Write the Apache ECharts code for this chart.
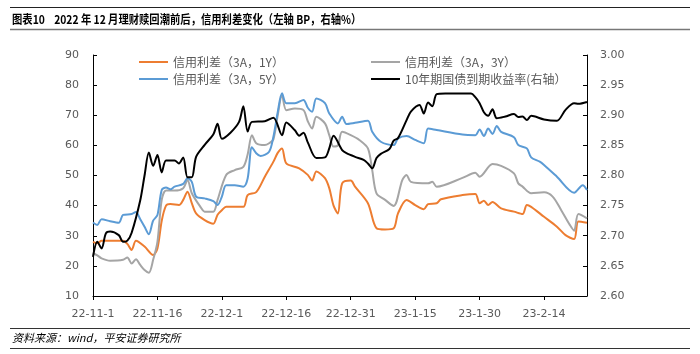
<!DOCTYPE html>
<html>
<head>
<meta charset="utf-8">
<script src="https://cdn.jsdelivr.net/npm/echarts@6/dist/echarts.min.js"></script>
<style>
    html, body { margin: 0; padding: 0; background: #fff; }
    #chart { width: 700px; height: 354px; }
</style>
</head>
<body>
<div id="chart"></div>
<script>
    // dates are 'M-D'; Nov/Dec are 2022, the rest 2023
    var spread1Y = [
        ['11-1', 28], ['11-2', 27.5], ['11-3', 28.3], ['11-8', 28.3], ['11-9', 27.3], ['11-10', 25.3],
        ['11-11', 28.3], ['11-13', 26.4], ['11-15', 23.6], ['11-16', 25.8], ['11-17', 35], ['11-18', 40],
        ['11-19', 40.5], ['11-21', 40.2], ['11-22', 41.9], ['11-23', 44.6], ['11-24', 40.8], ['11-25', 37.4],
        ['11-27', 35.2], ['11-29', 34], ['11-30', 37], ['12-1', 38.5], ['12-2', 39.6], ['12-6', 39.6],
        ['12-7', 43.5], ['12-9', 44.5], ['12-11', 49.6], ['12-13', 54.6], ['12-14', 57.5], ['12-15', 59],
        ['12-16', 54], ['12-19', 52.4], ['12-21', 50.2], ['12-22', 48.3], ['12-23', 51.3], ['12-25', 49.1],
        ['12-26', 45.8], ['12-27', 40], ['12-28', 37.4], ['12-29', 47.4], ['12-31', 48.3], ['1-1', 46.3],
        ['1-4', 40.8], ['1-6', 32.5], ['1-8', 32.1], ['1-10', 32.5], ['1-11', 37.4], ['1-13', 41.9],
        ['1-15', 40.2], ['1-17', 38.8], ['1-18', 40.5], ['1-20', 40.8], ['1-21', 42.1], ['1-26', 43.5],
        ['1-29', 43.9], ['1-30', 40.8], ['1-31', 41.6], ['2-1', 40.2], ['2-2', 41.2], ['2-4', 39.1],
        ['2-7', 38], ['2-9', 37.2], ['2-10', 40.2], ['2-11', 39.6], ['2-14', 36.3], ['2-17', 33],
        ['2-19', 30.2], ['2-21', 28.9], ['2-22', 34.7], ['2-24', 34.3]
    ];
    var spread3Y = [
        ['11-1', 24.2], ['11-2', 23.5], ['11-3', 22.5], ['11-5', 21.7], ['11-8', 22], ['11-9', 22.8],
        ['11-10', 20.8], ['11-11', 22.2], ['11-12', 20.3], ['11-13', 18.6], ['11-14', 17.7], ['11-15', 22],
        ['11-16', 28], ['11-17', 41.9], ['11-18', 45], ['11-20', 45], ['11-22', 45.8], ['11-23', 48.5],
        ['11-24', 44.1], ['11-26', 39.6], ['11-27', 38], ['11-29', 38], ['11-30', 41.9], ['12-2', 50.2],
        ['12-4', 51.8], ['12-6', 52.9], ['12-7', 57], ['12-8', 63.4], ['12-9', 60.7], ['12-11', 60.1],
        ['12-12', 60.7], ['12-13', 62], ['12-14', 70], ['12-15', 76.7], ['12-16', 71.7], ['12-18', 72.2],
        ['12-20', 71.7], ['12-21', 68], ['12-22', 65.6], ['12-23', 69.5], ['12-25', 67.3], ['12-26', 63.4],
        ['12-27', 59.6], ['12-28', 60], ['12-29', 64.5], ['12-31', 63.4], ['1-2', 61.8], ['1-4', 59],
        ['1-5', 51.8], ['1-6', 44.1], ['1-8', 41.9], ['1-10', 39.9], ['1-12', 48.5], ['1-13', 50.2],
        ['1-14', 47.9], ['1-18', 47.4], ['1-19', 47.9], ['1-20', 46.3], ['1-26', 49.2], ['1-29', 50.9],
        ['1-30', 49.6], ['2-2', 53.8], ['2-4', 53.2], ['2-7', 50.7], ['2-8', 47.4], ['2-9', 46.3],
        ['2-11', 44.1], ['2-14', 44.4], ['2-16', 43], ['2-18', 38.5], ['2-20', 33.6], ['2-21', 31.7],
        ['2-22', 37.2], ['2-24', 35.8]
    ];
    var spread5Y = [
        ['11-1', 34.4], ['11-2', 33.6], ['11-3', 35.5], ['11-5', 34.8], ['11-7', 34.3], ['11-8', 36.9],
        ['11-10', 37.2], ['11-11', 37.9], ['11-12', 35.5], ['11-13', 33], ['11-14', 30.5], ['11-15', 35],
        ['11-16', 36.9], ['11-17', 45.2], ['11-18', 46], ['11-19', 45.4], ['11-20', 46.3], ['11-22', 47.2],
        ['11-23', 49.1], ['11-24', 47.9], ['11-25', 43], ['11-27', 42.4], ['11-29', 41.5], ['11-30', 40.2],
        ['12-1', 43], ['12-2', 46.8], ['12-4', 46.8], ['12-6', 46.3], ['12-7', 49], ['12-8', 59.4],
        ['12-9', 57.4], ['12-10', 56.5], ['12-12', 57.9], ['12-13', 62.9], ['12-14', 71], ['12-15', 77.3],
        ['12-16', 74], ['12-18', 74], ['12-20', 75.1], ['12-21', 72.5], ['12-22', 71.2], ['12-23', 75.6],
        ['12-25', 74], ['12-26', 70.6], ['12-28', 67.3], ['12-29', 69.5], ['12-30', 67.1], ['1-1', 67.5],
        ['1-4', 68.2], ['1-5', 64.5], ['1-7', 61.2], ['1-10', 60.1], ['1-11', 62.3], ['1-13', 63.1],
        ['1-15', 61.8], ['1-17', 60.7], ['1-18', 65.6], ['1-20', 65.1], ['1-26', 63.6], ['1-29', 63.4],
        ['1-30', 65.3], ['1-31', 63.1], ['2-1', 65.6], ['2-2', 63.8], ['2-3', 66.4], ['2-4', 64.5],
        ['2-7', 62.7], ['2-8', 60.1], ['2-10', 59], ['2-11', 56], ['2-13', 54.6], ['2-14', 53.5],
        ['2-17', 49.6], ['2-21', 44.3], ['2-23', 46.8], ['2-24', 45.2]
    ];
    var yield10Y = [
        ['11-1', 2.665], ['11-2', 2.690], ['11-3', 2.679], ['11-4', 2.704], ['11-5', 2.707], ['11-7', 2.701],
        ['11-8', 2.690], ['11-9', 2.692], ['11-10', 2.705], ['11-12', 2.759], ['11-13', 2.800], ['11-14', 2.838],
        ['11-15', 2.816], ['11-16', 2.834], ['11-17', 2.805], ['11-18', 2.825], ['11-20', 2.825], ['11-21', 2.820],
        ['11-22', 2.830], ['11-23', 2.797], ['11-24', 2.797], ['11-25', 2.831], ['11-27', 2.851], ['11-29', 2.868],
        ['11-30', 2.886], ['12-1', 2.861], ['12-3', 2.871], ['12-5', 2.889], ['12-6', 2.915], ['12-7', 2.873],
        ['12-8', 2.889], ['12-11', 2.890], ['12-13', 2.896], ['12-15', 2.867], ['12-16', 2.888], ['12-18', 2.875],
        ['12-19', 2.866], ['12-20', 2.871], ['12-21', 2.855], ['12-23', 2.829], ['12-25', 2.830], ['12-26', 2.845],
        ['12-27', 2.866], ['12-29', 2.842], ['12-30', 2.837], ['1-1', 2.831], ['1-3', 2.826], ['1-4', 2.820],
        ['1-5', 2.812], ['1-6', 2.829], ['1-7', 2.836], ['1-9', 2.844], ['1-10', 2.858], ['1-11', 2.862],
        ['1-13', 2.892], ['1-14', 2.906], ['1-16', 2.917], ['1-17', 2.903], ['1-18', 2.921], ['1-19', 2.915],
        ['1-20', 2.935], ['1-22', 2.936], ['1-28', 2.936], ['1-29', 2.930], ['1-30', 2.920], ['1-31', 2.905],
        ['2-1', 2.899], ['2-2', 2.910], ['2-3', 2.895], ['2-5', 2.898], ['2-7', 2.902], ['2-8', 2.897],
        ['2-9', 2.898], ['2-10', 2.892], ['2-11', 2.899], ['2-14', 2.893], ['2-17', 2.891], ['2-19', 2.909],
        ['2-21', 2.920], ['2-22', 2.919], ['2-24', 2.922]
    ];
    var seriesNames = ['信用利差（3A，1Y）', '信用利差（3A，3Y）', '信用利差（3A，5Y）', '10年期国债到期收益率(右轴）'];
    var seriesColors = ['#ED7D31', '#A5A5A5', '#5B9BD5', '#000000'];

    var baseTime = Date.UTC(2022, 10, 1),
        dayMs = 86400000;

    function dayIndex(md) {
        var p = md.split('-'),
            m = +p[0],
            year = m >= 11 ? 2022 : 2023;
        return (Date.UTC(year, m - 1, +p[1]) - baseTime) / dayMs;
    }

    function toPoints(arr) {
        var out = [], i;
        for (i = 0; i < arr.length; i++) {
            out.push([dayIndex(arr[i][0]), arr[i][1]]);
        }
        return out;
    }

    function dayLabel(v) {
        var d = new Date(baseTime + v * dayMs);
        return (d.getUTCFullYear() % 100) + '-' + (d.getUTCMonth() + 1) + '-' + d.getUTCDate();
    }

    var myChart = echarts.init(document.getElementById('chart'));
    var allData = [spread1Y, spread3Y, spread5Y, yield10Y];
    var tempSeries = [], i;

    for (i = 0; i < allData.length; i++) {
        tempSeries.push({
            name: seriesNames[i],
            type: 'line',
            yAxisIndex: i === 3 ? 1 : 0,
            data: toPoints(allData[i]),
            symbol: 'none',
            smooth: 0.3,
            color: seriesColors[i],
            lineStyle: { width: 2, color: seriesColors[i] },
            z: i === 3 ? 5 : 3
        });
    }

    var legendText = { color: '#595959', fontSize: 12, fontFamily: 'Noto Sans CJK SC' };
    // the legend shows only the line, no marker
    var legendBase = {
        orient: 'vertical', top: 51, itemWidth: 29, itemHeight: 12, itemGap: 5,
        itemStyle: { opacity: 0 },
        textStyle: legendText
    };

    var option = {
        animation: false,
        backgroundColor: '#fff',
        grid: { left: 93, right: 113, top: 55, bottom: 58 },
        legend: [
            echarts.util.extend({ left: 133, data: [seriesNames[0], seriesNames[2]] }, legendBase),
            echarts.util.extend({ left: 365, data: [seriesNames[1], seriesNames[3]] }, legendBase)
        ],
        xAxis: {
            type: 'value',
            min: 0,
            max: 115,
            interval: 15,
            splitLine: { show: false },
            axisLine: { lineStyle: { color: '#000', width: 1 } },
            axisTick: { show: true, inside: false, length: 4, lineStyle: { color: '#000' } },
            axisLabel: {
                color: '#595959', fontSize: 11, fontFamily: 'DejaVu Sans', margin: 13,
                showMaxLabel: false,
                formatter: dayLabel
            }
        },
        yAxis: [
            {
                type: 'value',
                min: 10,
                max: 90,
                interval: 10,
                splitLine: { show: false },
                axisLine: { show: true, lineStyle: { color: '#000', width: 1 } },
                axisTick: { show: true, inside: true, length: 4, lineStyle: { color: '#000' } },
                axisLabel: { color: '#595959', fontSize: 11, fontFamily: 'DejaVu Sans', margin: 14 }
            },
            {
                type: 'value',
                min: 2.6,
                max: 3.0,
                interval: 0.05,
                splitLine: { show: false },
                axisLine: { show: true, lineStyle: { color: '#000', width: 1 } },
                axisTick: { show: true, inside: true, length: 4, lineStyle: { color: '#000' } },
                axisLabel: {
                    color: '#595959', fontSize: 11, fontFamily: 'DejaVu Sans', margin: 13,
                    formatter: function (v) { return v.toFixed(2); }
                }
            }
        ],
        graphic: [
            { type: 'line', shape: { x1: 10, y1: 7.5, x2: 690, y2: 7.5 }, style: { stroke: '#222', lineWidth: 1 } },
            {
                type: 'text', x: 12, y: 13, scaleX: 0.86,
                style: {
                    text: '图表10    2022 年 12 月理财赎回潮前后，信用利差变化（左轴 BP，右轴%）',
                    fill: '#000', font: 'bold 12px "Noto Sans CJK SC"'
                }
            },
            { type: 'line', shape: { x1: 10, y1: 29.5, x2: 690, y2: 29.5 }, style: { stroke: '#777', lineWidth: 1.5 } },
            { type: 'line', shape: { x1: 10, y1: 328.5, x2: 690, y2: 328.5 }, style: { stroke: '#333', lineWidth: 1 } },
            {
                type: 'text', left: 12, top: 332,
                style: {
                    text: '资料来源：wind，平安证券研究所',
                    fill: '#000', font: 'italic 11px "Noto Sans CJK SC"'
                }
            },
            { type: 'line', shape: { x1: 10, y1: 348.5, x2: 690, y2: 348.5 }, style: { stroke: '#333', lineWidth: 1 } }
        ],
        series: tempSeries
    };

    myChart.setOption(option);
</script>
</body>
</html>
